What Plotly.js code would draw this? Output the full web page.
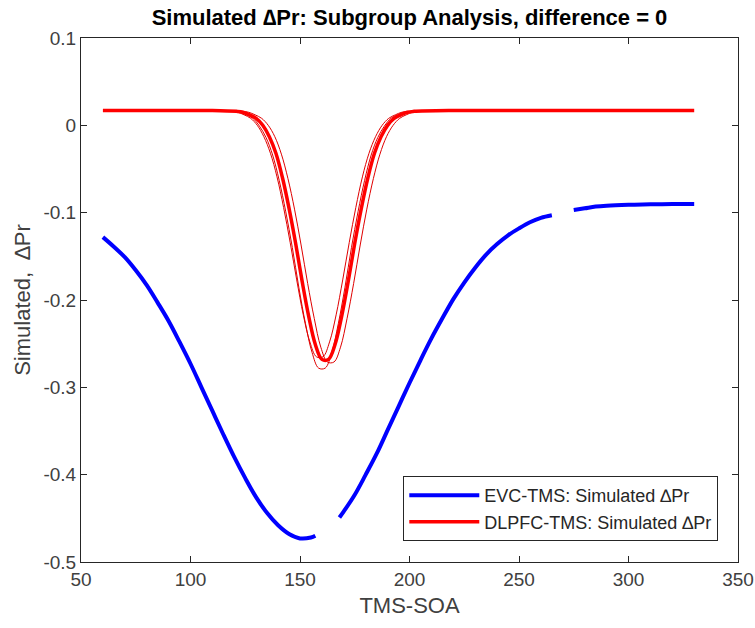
<!DOCTYPE html>
<html>
<head>
<meta charset="utf-8">
<script src="https://cdn.plot.ly/plotly-3.0.1.min.js"></script>
<style>html,body{margin:0;padding:0;background:#fff;}#chart{width:755px;height:628px;}</style>
</head>
<body>
<div id="chart"></div>
<script>
// EVC-TMS simulated ΔPr (null = gap in the curve)
const evcX = [60,65,70,75,80,85,90,95,100,105,110,115,120,125,130,135,140,145,150,155,157,
  null,
  168,170,175,180,185,190,195,200,205,210,215,220,225,230,235,240,245,250,255,260,265,
  null,
  275,280,285,290,300,310,320,330];
const evcY = [-0.128,-0.139,-0.151,-0.166,-0.183,-0.203,-0.224,-0.248,-0.273,-0.300,-0.327,-0.354,-0.380,-0.404,-0.426,-0.444,-0.458,-0.468,-0.473,-0.472,-0.470,
  null,
  -0.449,-0.442,-0.423,-0.400,-0.376,-0.349,-0.322,-0.295,-0.269,-0.244,-0.221,-0.199,-0.180,-0.163,-0.148,-0.136,-0.126,-0.118,-0.111,-0.106,-0.103,
  null,
  -0.097,-0.095,-0.093,-0.092,-0.091,-0.0905,-0.090,-0.090];

// DLPFC-TMS simulated ΔPr, main curve
const dlX = [60,90,110,121,124,127,130,133,136,139,142,145,148,151,154,157,160,163,166,169,172,175,178,181,184,187,190,193,196,199,202,220,260,300,330];
const dlY = [0.017,0.017,0.017,0.016,0.015,0.012,0.008,0.000,-0.013,-0.032,-0.060,-0.095,-0.135,-0.179,-0.219,-0.251,-0.268,-0.268,-0.251,-0.219,-0.179,-0.135,-0.095,-0.060,-0.032,-0.013,0.000,0.008,0.012,0.015,0.016,0.017,0.017,0.017,0.017];

// DLPFC-TMS, additional subgroup curves
const dl1X = [119.5,122.5,125.5,128.5,131.5,134.5,137.5,140.5,143.5,146.5,149.5,152.5,155.5,158.5,161.5,164.5,167.5,170.5,173.5,176.5,179.5,182.5,185.5,188.5,191.5,194.5,197.5,200.5];
const dl1Y = [0.016,0.015,0.012,0.008,-0.001,-0.014,-0.034,-0.063,-0.099,-0.140,-0.186,-0.227,-0.260,-0.278,-0.278,-0.260,-0.227,-0.186,-0.140,-0.099,-0.063,-0.034,-0.014,-0.001,0.008,0.012,0.015,0.016];
const dl2X = [123.5,126.5,129.5,132.5,135.5,138.5,141.5,144.5,147.5,150.5,153.5,156.5,159.5,162.5,165.5,168.5,171.5,174.5,177.5,180.5,183.5,186.5,189.5,192.5,195.5,198.5,201.5,204.5];
const dl2Y = [0.016,0.015,0.012,0.008,0.000,-0.013,-0.033,-0.061,-0.096,-0.137,-0.181,-0.221,-0.254,-0.271,-0.271,-0.254,-0.221,-0.181,-0.137,-0.096,-0.061,-0.033,-0.013,0.000,0.008,0.012,0.015,0.016];
const dl3X = [118.5,121.5,124.5,127.5,130.5,133.5,136.5,139.5,142.5,145.5,148.5,151.5,154.5,157.5,160.5,163.5,166.5,169.5,172.5,175.5,178.5,181.5,184.5,187.5,190.5,193.5,196.5,199.5];
const dl3Y = [0.016,0.015,0.012,0.008,0.000,-0.013,-0.032,-0.059,-0.094,-0.134,-0.177,-0.217,-0.248,-0.265,-0.265,-0.248,-0.217,-0.177,-0.134,-0.094,-0.059,-0.032,-0.013,0.000,0.008,0.012,0.015,0.016];

const xTicks = [50,100,150,200,250,300,350];
const yTicks = [0.1,0,-0.1,-0.2,-0.3,-0.4,-0.5];
const yTickText = ['0.1','0','-0.1','-0.2','-0.3','-0.4','-0.5'];

const names = ['EVC-TMS: Simulated \u2206Pr', 'DLPFC-TMS: Simulated \u2206Pr'];

const FONT = 'Liberation Sans, Arial, sans-serif';

const thin = (x, y) => ({x: x, y: y, type: 'scatter', mode: 'lines', showlegend: false,
  line: {color: '#e00000', width: 1, shape: 'spline'}, hoverinfo: 'skip'});

const traces = [
  thin(dl1X, dl1Y), thin(dl2X, dl2Y), thin(dl3X, dl3Y),
  {x: dlX, y: dlY, type: 'scatter', mode: 'lines', name: names[1],
   line: {color: '#ff0000', width: 3.5, shape: 'spline'}},
  {x: evcX, y: evcY, type: 'scatter', mode: 'lines', name: names[0], connectgaps: false,
   line: {color: '#0000ff', width: 4, shape: 'spline'}}
];

const axisCommon = {
  showgrid: false, zeroline: false, showline: true, mirror: 'ticks',
  linecolor: '#262626', linewidth: 1, ticks: 'inside', ticklen: 6, tickcolor: '#262626',
  tickfont: {family: FONT, size: 19, color: '#404040'}
};

const layout = {
  width: 755, height: 628,
  margin: {l: 81, r: 17, t: 38, b: 66},
  paper_bgcolor: '#ffffff', plot_bgcolor: '#ffffff',
  font: {family: FONT, color: '#262626'},
  title: {text: '<b>Simulated \u2206Pr: Subgroup Analysis, difference = 0</b>',
    font: {size: 22, color: '#000000', family: FONT},
    xref: 'paper', x: 0.5, xanchor: 'center', yref: 'container', y: 0.972, yanchor: 'middle'},
  xaxis: Object.assign({}, axisCommon, {range: [50, 350], tickvals: xTicks, ticktext: xTicks.map(String),
    title: {text: 'TMS-SOA', font: {size: 22, color: '#404040'}, standoff: 8}}),
  yaxis: Object.assign({}, axisCommon, {range: [-0.5, 0.1], tickvals: yTicks, ticktext: yTickText,
    title: {text: 'Simulated,  \u2206Pr', font: {size: 22, color: '#404040'}, standoff: 6}}),
  legend: {x: 0.97, xanchor: 'right', y: 0.04, yanchor: 'bottom', traceorder: 'reversed',
    bgcolor: '#ffffff', bordercolor: '#262626', borderwidth: 1,
    font: {size: 18, color: '#262626', family: FONT},
    itemwidth: 70, tracegroupgap: 0}
};

Plotly.newPlot('chart', traces, layout, {displayModeBar: false, staticPlot: true});
</script>
</body>
</html>
